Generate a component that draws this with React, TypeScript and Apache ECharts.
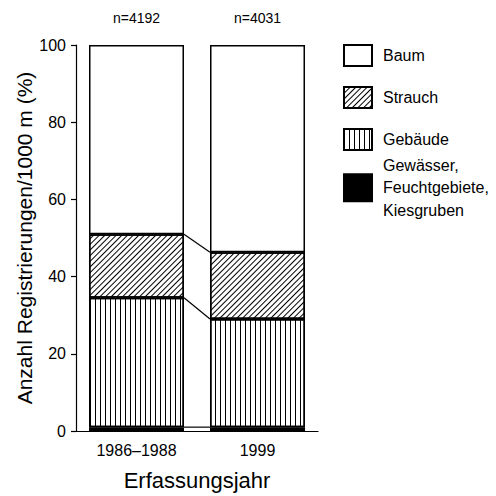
import React, { useEffect, useRef } from "react";
import * as echarts from "echarts";

const categories = ["1986–1988", "1999"];
const nLabels = ["n=4192", "n=4031"];
const gewaesser = [1, 1];
const gebaeude = [33.5, 28];
const strauch = [16.5, 17.3];
const baum = [49, 53.7];
const yTicks = { min: 0, max: 100, interval: 20 };

const FONT = "Liberation Sans, Arial, Helvetica, sans-serif";

export default function App() {
  const ref = useRef<HTMLDivElement>(null);
  useEffect(() => {
    if (!ref.current) return;
    const chart = echarts.init(ref.current, undefined, { renderer: "svg" });

    const stacks = [gewaesser, gebaeude, strauch];
    const connectors: number[][] = [];
    let c1 = 0;
    let c2 = 0;
    stacks.forEach((s) => {
      c1 += s[0];
      c2 += s[1];
      connectors.push([0, c1, c2]);
    });

    const barW = 0.785;
    const border = { borderColor: "#000", borderWidth: 1.5 };

    const option: any = {
      animation: false,
      textStyle: { fontFamily: FONT, color: "#000" },
      grid: { left: 76, right: 178, top: 45, bottom: 63, containLabel: false },
      legend: [
        {
          data: ["Baum", "Strauch", "Gebäude"],
          orient: "vertical",
          left: 343,
          top: 44,
          padding: 0,
          icon: "rect",
          itemWidth: 28,
          itemHeight: 21,
          itemGap: 19,
          selectedMode: false,
          textStyle: { fontSize: 16, color: "#000", fontFamily: FONT, padding: [0, 0, 0, 6] },
        },
        {
          data: ["Gewässer,\nFeuchtgebiete,\nKiesgruben"],
          orient: "vertical",
          left: 343,
          top: 154,
          padding: 0,
          icon: "rect",
          itemWidth: 28,
          itemHeight: 27,
          selectedMode: false,
          textStyle: { fontSize: 16, lineHeight: 22.5, color: "#000", fontFamily: FONT, padding: [0, 0, 0, 6] },
        },
      ],
      xAxis: {
        type: "category",
        data: categories,
        name: "Erfassungsjahr",
        nameLocation: "middle",
        nameGap: 38,
        nameTextStyle: { fontSize: 22, color: "#000", fontFamily: FONT, verticalAlign: "top" },
        axisLine: { lineStyle: { color: "#000", width: 1.2 } },
        axisTick: { length: 8, lineStyle: { color: "#000", width: 1.2 } },
        axisLabel: { fontSize: 16, color: "#000", margin: 11, fontFamily: FONT },
      },
      yAxis: {
        type: "value",
        min: yTicks.min,
        max: yTicks.max,
        interval: yTicks.interval,
        name: "Anzahl Registrierungen/1000 m (%)",
        nameLocation: "middle",
        nameGap: 40,
        nameTextStyle: { fontSize: 21, color: "#000", fontFamily: FONT },
        axisLine: { show: true, lineStyle: { color: "#000", width: 1.2 } },
        axisTick: { show: true, length: 5, lineStyle: { color: "#000", width: 1.2 } },
        axisLabel: { fontSize: 16, color: "#000", margin: 10, fontFamily: FONT },
        splitLine: { show: false },
      },
      series: [
        {
          name: "Gewässer,\nFeuchtgebiete,\nKiesgruben",
          type: "bar",
          stack: "a",
          barWidth: barW * 100 + "%",
          data: gewaesser,
          itemStyle: { color: "#000", ...border },
        },
        {
          name: "Gebäude",
          type: "bar",
          stack: "a",
          barWidth: barW * 100 + "%",
          data: gebaeude,
          itemStyle: {
            color: "#fff",
            ...border,
            decal: {
              symbol: "rect",
              symbolSize: 1,
              color: "#000",
              backgroundColor: "#fff",
              dashArrayX: [1, 3.3],
              dashArrayY: [4, 0],
              rotation: 0,
            },
          },
        },
        {
          name: "Strauch",
          type: "bar",
          stack: "a",
          barWidth: barW * 100 + "%",
          data: strauch,
          itemStyle: {
            color: "#fff",
            ...border,
            decal: {
              symbol: "rect",
              symbolSize: 1,
              color: "#000",
              backgroundColor: "#fff",
              dashArrayX: [1, 2.4],
              dashArrayY: [4, 0],
              rotation: Math.PI / 4,
            },
          },
        },
        {
          name: "Baum",
          type: "bar",
          stack: "a",
          barWidth: barW * 100 + "%",
          data: baum.map((v, i) => ({
            value: v,
            label: { formatter: nLabels[i] },
          })),
          itemStyle: { color: "#fff", ...border },
          label: {
            show: true,
            position: "top",
            distance: 20,
            fontSize: 14,
            color: "#000",
            fontFamily: FONT,
          },
        },
        {
          type: "custom",
          silent: true,
          data: connectors,
          encode: { x: 0, y: [1, 2] },
          renderItem: (params: any, api: any) => {
            const y1 = api.value(1);
            const y2 = api.value(2);
            const p1 = api.coord([0, y1]);
            const p2 = api.coord([1, y2]);
            const bw = api.size([1, 0])[0] * barW;
            return {
              type: "line",
              shape: { x1: p1[0] + bw / 2, y1: p1[1], x2: p2[0] - bw / 2, y2: p2[1] },
              style: { stroke: "#000", lineWidth: 1.2 },
            };
          },
          z: 3,
        },
      ],
    };
    chart.setOption(option);
    return () => chart.dispose();
  }, []);
  return (
    <div
      ref={ref}
      style={{ position: "absolute", left: 0, top: 0, width: 496, height: 496, background: "#fff" }}
    />
  );
}
